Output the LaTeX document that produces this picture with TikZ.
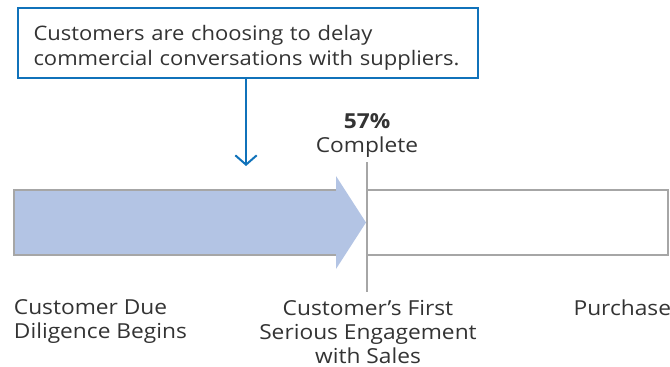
\documentclass[tikz,border=0pt]{standalone}
\usepackage{fontspec}
\setmainfont{Open Sans}[FakeStretch=1.1]
\usetikzlibrary{arrows.meta}

\definecolor{calloutblue}{RGB}{16,114,186}
\definecolor{barblue}{RGB}{179,196,228}
\definecolor{bargray}{RGB}{166,166,166}
\definecolor{txtgray}{RGB}{51,51,51}

\begin{document}
\begin{tikzpicture}[x=0.75pt,y=0.75pt,yscale=-1,xscale=1,
  lbl/.style={inner sep=0.5pt, text=txtgray, font=\fontsize{15.5}{18}\selectfont},
  note/.style={draw=calloutblue, line width=1.5pt, inner xsep=12pt, inner ysep=0pt,
    text width=321pt, minimum height=52.5pt, align=left, text=txtgray,
    font=\fontsize{15}{19.2}\selectfont},
  callarrow/.style={draw=calloutblue, line width=1.5pt, -{Straight Barb[length=7pt,width=16pt,line width=1.5pt]}},
  grayline/.style={draw=bargray, line width=1.5pt}]
\path[use as bounding box] (0,0) rectangle (670,367);

%Shape: Callout Box
\node[note] (note) at (247.5,43) {\rule{0pt}{18.5pt}Customers are choosing to delay\\commercial conversations with suppliers.};
%Straight Lines: callout arrow
\coordinate (tip) at (246,166);
\draw[callarrow] (note.south -| tip) -- (tip);

%Shape: Polygon (progress arrow)
\fill[barblue] (14,190) -- (336,190) -- (336,176) -- (366,222.5) -- (336,269) -- (336,255) -- (14,255) -- cycle;
%Straight Lines: bar outline
\draw[grayline] (336,190) -- (14,190) -- (14,255) -- (336,255);
\draw[grayline] (367,190) rectangle (668,255);
%Straight Lines: milestone
\coordinate (mtop) at (367,162);
\coordinate (mbot) at (367,292);
\draw[grayline] (mtop) -- (mbot);

% Text Node
\node[lbl, anchor=south, align=center, yshift=2.5pt] (pct) at (mtop) {\textbf{57\%}\\Complete};
% Text Node
\node[lbl, anchor=north west, align=left] (start) at (13,299) {Customer Due\\Diligence Begins};
% Text Node
\node[lbl, anchor=north, align=center, text depth=0pt] (engage) at (368,299) {Customer’s First\\Serious Engagement\\with Sales};
% Text Node
\node[lbl, anchor=north east] (purchase) at (672,299) {Purchase};

\end{tikzpicture}
\end{document}
